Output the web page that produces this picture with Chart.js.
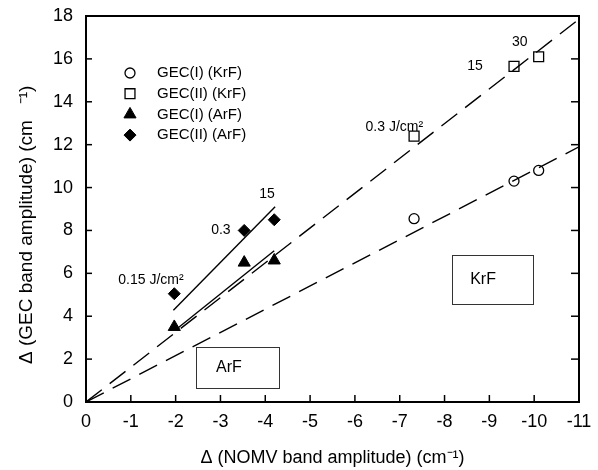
<!DOCTYPE html>
<html>
<head>
<meta charset="utf-8">
<script src="https://cdn.jsdelivr.net/npm/chart.js@4.4.1/dist/chart.umd.min.js"></script>
<style>
  html, body { margin: 0; padding: 0; background: #fff; }
</style>
</head>
<body>
<canvas id="chart" width="598" height="470"></canvas>
<script>
// ==== Data ====
const xTicks = [0, -1, -2, -3, -4, -5, -6, -7, -8, -9, -10, -11];
const yTicks = [0, 2, 4, 6, 8, 10, 12, 14, 16, 18];

const krfNomv = [-7.32, -9.55, -10.1];
const gec1Krf = [8.55, 10.3, 10.8];
const gec2Krf = [12.4, 15.65, 16.1];

const arfNomv = [-1.97, -3.53, -4.2];
const gec1Arf = [3.5, 6.5, 6.6];
const gec2Arf = [5.05, 8.0, 8.5];

// fitted lines [x, y] end points
const krfFitHigh = [[0, 0], [-11, 17.85]];
const krfFitLow = [[0, 0], [-11, 11.9]];
const arfFit1 = [[-2.05, 3.45], [-4.2, 7.05]];
const arfFit2 = [[-1.95, 4.28], [-4.22, 9.11]];

// fluence labels [text, x, y]
const fluenceLabels = [
  ["0.15 J/cm\u00b2", -1.45, 5.69],
  ["0.3", -3.01, 8.03],
  ["15", -4.04, 9.7],
  ["0.3 J/cm\u00b2", -6.88, 12.8],
  ["15", -8.68, 15.65],
  ["30", -9.68, 16.77]
];

// boxed labels [text, x0, y0, x1, y1, textX, textY]
const boxLabels = [
  ["ArF", -2.45, 2.56, -4.31, 0.64, -3.19, 1.62],
  ["KrF", -8.17, 6.86, -9.97, 4.56, -8.86, 5.69]
];

const FONT = "'Liberation Sans', Arial, sans-serif";

const pts = (xs, ys) => xs.map((x, i) => ({ x: x, y: ys[i] }));
const seg = arr => arr.map(p => ({ x: p[0], y: p[1] }));

// ==== Datasets ====
const markerSets = [
  { label: "GEC(I) (KrF)", data: pts(krfNomv, gec1Krf), pointStyle: "circle", pointRadius: 5,
    backgroundColor: "rgba(0,0,0,0)", borderColor: "#000", borderWidth: 1.3 },
  { label: "GEC(II) (KrF)", data: pts(krfNomv, gec2Krf), pointStyle: "rect", pointRadius: 7,
    backgroundColor: "rgba(0,0,0,0)", borderColor: "#000", borderWidth: 1.3 },
  { label: "GEC(I) (ArF)", data: pts(arfNomv, gec1Arf), pointStyle: "triangle", pointRadius: 7,
    backgroundColor: "#000", borderColor: "#000", borderWidth: 1 },
  { label: "GEC(II) (ArF)", data: pts(arfNomv, gec2Arf), pointStyle: "rectRot", pointRadius: 6,
    backgroundColor: "#000", borderColor: "#000", borderWidth: 1 }
];

const lineSet = (data, dash) => ({
  data: seg(data), showLine: true, pointRadius: 0, borderColor: "#000",
  borderWidth: 1.4, borderDash: dash, fill: false
});

const lineSets = [
  lineSet(krfFitHigh, [20, 10]),
  lineSet(krfFitLow, [20, 10]),
  lineSet(arfFit1, []),
  lineSet(arfFit2, [])
];

// ==== Extras: frame, ticks, legend, labels ====
const extras = {
  id: "extras",
  afterDraw(chart) {
    const { ctx, chartArea: a, scales: { x, y } } = chart;
    const line = (x0, y0, x1, y1) => {
      ctx.beginPath(); ctx.moveTo(x0, y0); ctx.lineTo(x1, y1); ctx.stroke();
    };
    ctx.save();
    ctx.strokeStyle = "#000";

    // inward ticks
    ctx.lineWidth = 1.5;
    xTicks.forEach(v => {
      const px = x.getPixelForValue(v);
      line(px, a.bottom, px, a.bottom - 7);
    });
    yTicks.forEach(v => {
      const py = y.getPixelForValue(v);
      line(a.right, py, a.right - 8, py);
      line(a.left, py, a.left + 6, py);
    });

    // frame
    ctx.lineWidth = 2;
    ctx.strokeRect(a.left, a.top, a.right - a.left, a.bottom - a.top);

    // legend
    ctx.font = "15px " + FONT;
    ctx.textBaseline = "middle";
    ctx.textAlign = "left";
    markerSets.forEach((ds, i) => {
      const ly = a.top + 57 + i * 20.7;
      const lx = a.left + 44;
      ctx.fillStyle = ds.backgroundColor;
      ctx.strokeStyle = ds.borderColor;
      ctx.lineWidth = ds.borderWidth;
      Chart.helpers.drawPoint(ctx, {
        pointStyle: ds.pointStyle, radius: ds.pointRadius, rotation: 0, borderWidth: ds.borderWidth
      }, lx, ly);
      ctx.fillStyle = "#000";
      ctx.fillText(ds.label, lx + 27, ly);
    });

    // fluence labels
    ctx.fillStyle = "#000";
    ctx.textAlign = "center";
    ctx.font = "14px " + FONT;
    fluenceLabels.forEach(l => {
      ctx.fillText(l[0], x.getPixelForValue(l[1]), y.getPixelForValue(l[2]));
    });

    // boxes
    ctx.lineWidth = 1;
    ctx.strokeStyle = "#333";
    ctx.font = "16px " + FONT;
    boxLabels.forEach(b => {
      const x0 = x.getPixelForValue(b[1]), y0 = y.getPixelForValue(b[2]);
      const x1 = x.getPixelForValue(b[3]), y1 = y.getPixelForValue(b[4]);
      ctx.strokeRect(Math.round(x0) + 0.5, Math.round(y0) + 0.5, Math.round(x1 - x0), Math.round(y1 - y0));
      ctx.fillText(b[0], x.getPixelForValue(b[5]), y.getPixelForValue(b[6]));
    });
    ctx.restore();
  }
};

// ==== Chart ====
const ctx = document.getElementById("chart").getContext("2d");
new Chart(ctx, {
  type: "scatter",
  data: { datasets: [...lineSets, ...markerSets] },
  options: {
    responsive: false,
    animation: false,
    layout: { padding: { top: 16, right: 19, left: 0, bottom: 0 } },
    plugins: { legend: { display: false }, tooltip: { enabled: false } },
    scales: {
      x: {
        type: "linear", min: -11, max: 0, reverse: true,
        afterBuildTicks: s => { s.ticks = xTicks.map(v => ({ value: v })); },
        afterFit: s => { s.height = 68; s.paddingLeft = 0; s.paddingRight = 0; },
        grid: { display: false, drawTicks: false },
        border: { display: false },
        ticks: { color: "#000", padding: 9, font: { family: FONT, size: 18 }, maxRotation: 0, autoSkip: false },
        title: {
          display: true, text: "\u0394 (NOMV band amplitude) (cm\u207b\u00b9)",
          color: "#000", font: { family: FONT, size: 18 }, padding: { top: 0, bottom: 1 }
        }
      },
      y: {
        type: "linear", min: 0, max: 18,
        afterBuildTicks: s => { s.ticks = yTicks.map(v => ({ value: v })); },
        afterFit: s => { s.width = 86; s.paddingTop = 0; s.paddingBottom = 0; },
        grid: { display: false, drawTicks: false },
        border: { display: false },
        ticks: { color: "#000", padding: 13, font: { family: FONT, size: 18 } },
        title: {
          display: true, text: "\u0394 (GEC band amplitude) (cm   \u207b\u00b9)      ",
          color: "#000", font: { family: FONT, size: 19 }, padding: { top: 15, bottom: 0 }
        }
      }
    }
  },
  plugins: [extras]
});
</script>
</body>
</html>
